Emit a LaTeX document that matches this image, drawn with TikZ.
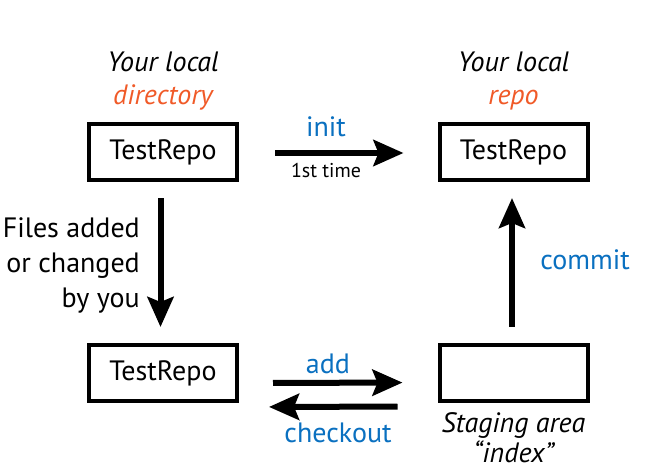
\documentclass[tikz,border=0pt]{standalone}
\usepackage{fontspec}
\setmainfont{PT Sans}
\usetikzlibrary{arrows.meta}
\definecolor{gitblue}{HTML}{0A70C0}
\definecolor{gitorange}{HTML}{F05A28}
\begin{document}
\begin{tikzpicture}[x=1pt,y=-1pt,
  box/.style={draw=black, line width=4pt, minimum width=148pt, minimum height=56pt, inner sep=0pt,
    font=\fontsize{28}{33}\selectfont},
  big/.style={font=\fontsize{28}{33}\selectfont, inner sep=0pt, anchor=base},
  bigit/.style={font=\fontsize{28}{33}\selectfont\itshape, inner sep=0pt, anchor=base},
  small/.style={font=\fontsize{20}{24}\selectfont, inner sep=0pt, anchor=base},
  cmd/.style={big, text=gitblue},
  arr/.style={line width=6pt, -{Stealth[length=30pt, width=26pt, inset=5pt]}}
]
\useasboundingbox (0,0) rectangle (672,476);
% boxes
\node[box] (dir) at (163,152) {TestRepo};
\node[box] (repo) at (513.5,152) {TestRepo};
\node[box] (work) at (163,373) {TestRepo};
\node[box] (stage) at (513.5,372.5) {};
% headings
\node[bigit] (dirl1) at (163,72) {Your local};
\node[bigit, text=gitorange] (dirl2) at (163,105) {directory};
\node[bigit] (repol1) at (513.5,72) {Your local};
\node[bigit, text=gitorange] (repol2) at (513.5,105) {repo};
\node[bigit] (stl1) at (513.5,432) {Staging area};
\node[bigit] (stl2) at (513.5,462) {“index”};
% arrows
\draw[arr, shorten <=36pt, shorten >=34pt] ([yshift=-1pt]dir.east) -- ([yshift=-1pt]repo.west);
\draw[arr, shorten <=16pt, shorten >=16pt] ([xshift=-2.5pt]dir.south) -- ([xshift=-2.5pt]work.north);
\draw[arr, shorten <=16pt, shorten >=16pt] ([xshift=-1.5pt]stage.north) -- ([xshift=-1.5pt]repo.south);
\draw[arr, shorten <=34pt, shorten >=35pt] ([yshift=-10pt]work.east) -- ([yshift=-10pt]stage.west);
\draw[arr, shorten <=40pt, shorten >=30pt] ([yshift=-34pt]stage.west) -- ([yshift=-34pt]work.east);
% arrow labels
\node[cmd] (init) at (326,137) {init};
\node[small] (first) at (326,178) {1st time};
\node[cmd] (commit) at (585,269) {commit};
\node[cmd] (add) at (328,373) {add};
\node[cmd] (checkout) at (338,442) {checkout};
\node[big, anchor=base east] (f1) at (140,237) {Files added};
\node[big, anchor=base east] (f2) at (140,272) {or changed};
\node[big, anchor=base east] (f3) at (140,307) {by you};
\end{tikzpicture}
\end{document}
